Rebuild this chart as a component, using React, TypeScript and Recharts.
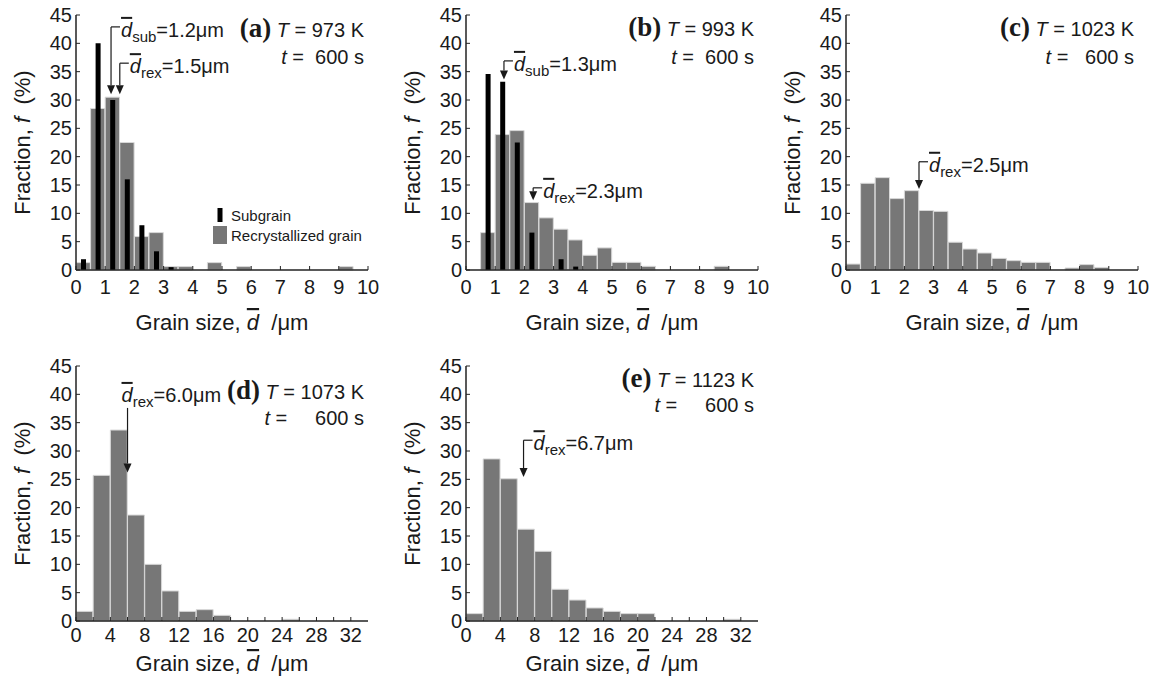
import React from 'react';
import { ComposedChart, Bar, XAxis, YAxis, ReferenceLine, Legend } from 'recharts';

const FONT = '"Liberation Sans", Arial, sans-serif';
const SERIF = '"Liberation Serif", "Times New Roman", serif';
const INK = '#1a1a1a';

// bin centres (um): 0.5 um bins for (a)-(c), 2 um bins for (d)-(e)
const fineBins = [0.25, 0.75, 1.25, 1.75, 2.25, 2.75, 3.25, 3.75, 4.25, 4.75, 5.25, 5.75, 6.25, 6.75, 7.25, 7.75, 8.25, 8.75, 9.25, 9.75];
const coarseBins = [1, 3, 5, 7, 9, 11, 13, 15, 17, 19, 21, 23, 25, 27, 29, 31, 33];

const fineTicks = [0, 1, 2, 3, 4, 5, 6, 7, 8, 9, 10];
const coarseTicks = [0, 2, 4, 6, 8, 10, 12, 14, 16, 18, 20, 22, 24, 26, 28, 30, 32];
const coarseLabels = [0, 4, 8, 12, 16, 20, 24, 28, 32];
const yTicks = [0, 5, 10, 15, 20, 25, 30, 35, 40, 45];

// fraction f (%)
const rexA = [1.3, 28.5, 30.5, 22.5, 5.9, 6.6, 0.6, 0.6, 0, 1.3, 0, 0.6, 0, 0, 0, 0, 0, 0, 0.6, 0];
const subA = [1.9, 40, 30, 16, 7.9, 3.3, 0.5, 0, 0, 0, 0, 0, 0, 0, 0, 0, 0, 0, 0, 0];
const rexB = [0, 6.6, 23.9, 24.6, 11.9, 9.2, 7.2, 5.3, 2.6, 3.9, 1.35, 1.35, 0.65, 0, 0, 0, 0, 0.65, 0, 0];
const subB = [0, 34.6, 33.2, 22.5, 6.6, 0, 1.9, 0.6, 0, 0, 0, 0, 0, 0, 0, 0, 0, 0, 0, 0];
const rexC = [1.05, 15.3, 16.3, 12.6, 14.0, 10.5, 10.35, 4.9, 3.7, 3.0, 2.05, 1.65, 1.35, 1.35, 0, 0.35, 0.95, 0.45, 0, 0];
const rexD = [1.7, 25.7, 33.7, 18.7, 10.0, 5.3, 1.7, 2.0, 1.0, 0, 0, 0, 0.3, 0, 0, 0, 0];
const rexE = [1.3, 28.6, 25.1, 16.2, 12.3, 5.6, 3.7, 2.3, 1.7, 1.3, 1.3, 0, 0, 0, 0, 0.3, 0];

const W = 380;
const H = 340;
const MARGIN = { top: 15, right: 12, bottom: 40, left: 30 };
const Y_AXIS_W = 46;
const X_AXIS_H = 30;
const PLOT_W = W - MARGIN.left - MARGIN.right - Y_AXIS_W;
const PLOT_RIGHT = W - MARGIN.right;
const AXIS_LINE = { stroke: '#222', strokeWidth: 1.5 };

type Arrow = { x: number; from: number; to: number; kind: 'sub' | 'rex'; value: string; text: 'side' | 'above' };

function arrowShape(a: Arrow) {
  return (p: any) => {
    const { x1, y1, x2, y2 } = p;
    const head = 9;
    const tx = a.text === 'side' ? x1 + 10 : x1 - 6;
    const ty = a.text === 'side' ? y1 + 10 : y1 - 6;
    return (
      <g>
        <line x1={x1} y1={y1} x2={x2} y2={y2 - head} stroke={INK} strokeWidth={1.2} />
        <path d={`M${x2 - 4},${y2 - head} L${x2 + 4},${y2 - head} L${x2},${y2} Z`} fill={INK} />
        {a.text === 'side' && <line x1={x1} y1={y1} x2={x1 + 9} y2={y1} stroke={INK} strokeWidth={1.2} />}
        <text x={tx} y={ty} fontFamily={FONT} fontSize={20} fill={INK}>
          <tspan fontStyle="italic" style={{ textDecoration: 'overline' }}>d</tspan>
          <tspan fontSize={15} dy={5}>{a.kind}</tspan>
          <tspan dy={-5}>{'=' + a.value + 'μm'}</tspan>
        </text>
      </g>
    );
  };
}

const yTitle = (props: any) => {
  const vb = props.viewBox;
  const cx = vb.x - 8;
  const cy = vb.y + vb.height / 2;
  return (
    <text x={cx} y={cy} transform={`rotate(-90 ${cx} ${cy})`} textAnchor="middle" dominantBaseline="central"
      fontFamily={FONT} fontSize={22} fill={INK} style={{ whiteSpace: 'pre' }}>
      {'Fraction, '}<tspan fontStyle="italic">f</tspan>{'  (%)'}
    </text>
  );
};

const xTitle = (gap: number) => (props: any) => {
  const vb = props.viewBox;
  return (
    <text x={vb.x + vb.width / 2} y={vb.y + gap} textAnchor="middle" fontFamily={FONT} fontSize={22} fill={INK}
      style={{ whiteSpace: 'pre' }}>
      {'Grain size, '}<tspan fontStyle="italic" style={{ textDecoration: 'overline' }}>d</tspan>{'  /μm'}
    </text>
  );
};

const LegendBox = (props: any) => {
  const items = [...(props.payload ?? [])].reverse();
  return (
    <div style={{ fontFamily: FONT, fontSize: 15, color: INK }}>
      {items.map((it: any) => (
        <div key={it.value} style={{ display: 'flex', alignItems: 'center', height: 20 }}>
          <svg width={14} height={18} style={{ marginRight: 4 }}>
            {it.dataKey === 'sub'
              ? <rect x={4.5} y={2} width={5} height={14} fill={it.color} />
              : <rect x={0} y={0} width={14} height={18} fill={it.color} />}
          </svg>
          <span>{it.value}</span>
        </div>
      ))}
    </div>
  );
};

interface PanelProps {
  left: number;
  top: number;
  bins: number[];
  rex: number[];
  sub?: number[];
  xMax: number;
  xTicks: number[];
  xLabels: number[];
  binWidth: number;
  tag: string;
  temp: string;
  tSpace: string;
  line1: number;
  line2: number;
  tickGap: number;
  titleGap: number;
  arrows: Arrow[];
  legend?: boolean;
}

function Panel(p: PanelProps) {
  const data = p.bins.map((d, i) => ({ d, rex: p.rex[i], sub: p.sub ? p.sub[i] : undefined }));
  const binPx = (p.binWidth * PLOT_W) / p.xMax;
  return (
    <div style={{ position: 'absolute', left: p.left, top: p.top }}>
      <ComposedChart width={W} height={H} data={data} margin={MARGIN}>
        <XAxis type="number" dataKey="d" domain={[0, p.xMax]} ticks={p.xTicks} interval={0} height={X_AXIS_H}
          tickSize={-4} tickMargin={p.tickGap} axisLine={AXIS_LINE} tickLine={{ stroke: '#222' }}
          tick={{ fontSize: 20, fill: INK, fontFamily: FONT }}
          tickFormatter={(v: number) => (p.xLabels.includes(v) ? String(v) : '')}
          label={xTitle(p.titleGap)} />
        <XAxis xAxisId="top" orientation="top" type="number" dataKey="d" domain={[0, p.xMax]} height={0}
          tick={false} tickLine={false} axisLine={AXIS_LINE} />
        <YAxis domain={[0, 45]} ticks={yTicks} interval={0} width={Y_AXIS_W} tickSize={-4} tickMargin={8}
          axisLine={AXIS_LINE} tickLine={{ stroke: '#222' }}
          tick={{ fontSize: 20, fill: INK, fontFamily: FONT }} label={yTitle} />
        <YAxis yAxisId="right" orientation="right" domain={[0, 45]} width={0} tick={false} tickLine={false}
          axisLine={AXIS_LINE} />
        <Bar dataKey="rex" name="Recrystallized grain" fill="#777777" stroke="#d8d8d8" strokeWidth={1}
          barSize={binPx - 0.3} isAnimationActive={false} />
        {p.sub && (
          <Bar xAxisId="top" dataKey="sub" name="Subgrain" fill="#000000" barSize={5} isAnimationActive={false} />
        )}
        {p.arrows.map((a) => (
          <ReferenceLine key={a.kind + a.value} segment={[{ x: a.x, y: a.from }, { x: a.x, y: a.to }]}
            ifOverflow="visible" shape={arrowShape(a)} />
        ))}
        {p.legend && (
          <Legend layout="vertical" align="center" verticalAlign="middle" content={LegendBox}
            wrapperStyle={{ left: 213, top: 205, width: 165 }} />
        )}
        <text x={PLOT_RIGHT - 4} y={MARGIN.top + p.line1} textAnchor="end" fontFamily={FONT} fontSize={20}
          fill={INK} style={{ whiteSpace: 'pre' }}>
          <tspan fontFamily={SERIF} fontWeight="bold" fontSize={27}>{'(' + p.tag + ')'}</tspan>
          {' '}<tspan fontStyle="italic">T</tspan>{' = ' + p.temp + ' K'}
        </text>
        <text x={PLOT_RIGHT - 4} y={MARGIN.top + p.line2} textAnchor="end" fontFamily={FONT} fontSize={20}
          fill={INK} style={{ whiteSpace: 'pre' }}>
          <tspan fontStyle="italic">t</tspan>{' =' + p.tSpace + '600 s'}
        </text>
      </ComposedChart>
    </div>
  );
}

export default function App() {
  return (
    <div style={{ position: 'absolute', left: 0, top: 0, width: 1156, height: 687, background: '#fff' }}>
      <Panel left={0} top={0} bins={fineBins} rex={rexA} sub={subA} xMax={10} xTicks={fineTicks}
        xLabels={fineTicks} binWidth={0.5} tag="a" temp="973" tSpace="  " line1={22} line2={49}
        tickGap={14} titleGap={60} legend
        arrows={[
          { x: 1.2, from: 42.9, to: 31.0, kind: 'sub', value: '1.2', text: 'side' },
          { x: 1.5, from: 36.5, to: 31.0, kind: 'rex', value: '1.5', text: 'side' },
        ]} />
      <Panel left={390} top={0} bins={fineBins} rex={rexB} sub={subB} xMax={10} xTicks={fineTicks}
        xLabels={fineTicks} binWidth={0.5} tag="b" temp="993" tSpace="  " line1={21} line2={49}
        tickGap={14} titleGap={60}
        arrows={[
          { x: 1.3, from: 36.9, to: 33.6, kind: 'sub', value: '1.3', text: 'side' },
          { x: 2.3, from: 14.5, to: 12.3, kind: 'rex', value: '2.3', text: 'side' },
        ]} />
      <Panel left={770} top={0} bins={fineBins} rex={rexC} xMax={10} xTicks={fineTicks}
        xLabels={fineTicks} binWidth={0.5} tag="c" temp="1023" tSpace="   " line1={21} line2={49}
        tickGap={14} titleGap={60}
        arrows={[{ x: 2.5, from: 19.1, to: 14.3, kind: 'rex', value: '2.5', text: 'side' }]} />
      <Panel left={0} top={351} bins={coarseBins} rex={rexD} xMax={34} xTicks={coarseTicks}
        xLabels={coarseLabels} binWidth={2} tag="d" temp="1073" tSpace="     " line1={33} line2={59}
        tickGap={11} titleGap={50}
        arrows={[{ x: 6.0, from: 37.6, to: 26.2, kind: 'rex', value: '6.0', text: 'above' }]} />
      <Panel left={390} top={351} bins={coarseBins} rex={rexE} xMax={34} xTicks={coarseTicks}
        xLabels={coarseLabels} binWidth={2} tag="e" temp="1123" tSpace="     " line1={21} line2={46}
        tickGap={11} titleGap={50}
        arrows={[{ x: 6.7, from: 31.9, to: 25.4, kind: 'rex', value: '6.7', text: 'side' }]} />
    </div>
  );
}
